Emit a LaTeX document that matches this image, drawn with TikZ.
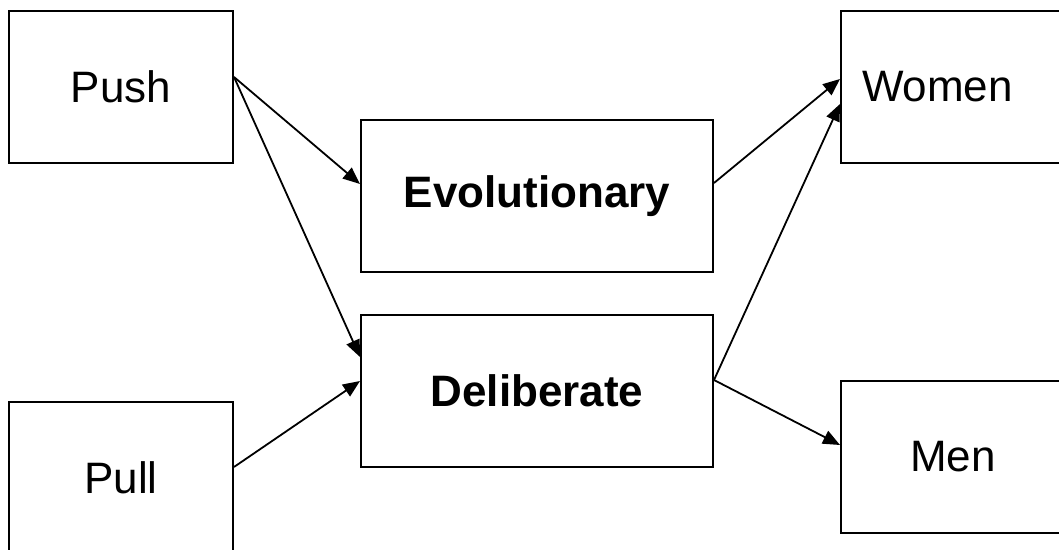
\documentclass[tikz,border=0pt]{standalone}
\usepackage{fontspec}
\setmainfont{Liberation Sans}
\usetikzlibrary{positioning, arrows.meta}

\begin{document}
\begin{tikzpicture}[
    x=0.5pt, y=-0.5pt,
    factor/.style={rectangle, draw, line width=1pt, minimum width=112pt, minimum height=76pt, inner sep=0pt, font=\fontsize{22}{26}\selectfont},
    mode/.style={rectangle, draw, line width=1pt, minimum width=176pt, minimum height=76pt, inner sep=0pt, font=\fontsize{22}{26}\selectfont\bfseries},
    arrow/.style={-{Triangle[length=8.5pt, width=7pt]}, line width=0.9pt}
]
\useasboundingbox (0,0) rectangle (1059,550);

% Factors
\node (push) [factor] at (121,87) {Push};
\node (pull) [factor] at (121,478) {Pull};

% Modes
\node (evol) [mode] at (537,196) {Evolutionary};
\node (delib) [mode] at (537,391) {Deliberate};

% Groups
\node (women) [factor, text width=91pt, inner xsep=10.5pt, align=left] at (953,87) {Women};
\node (men) [factor] at (953,457) {Men};

% Arrows
\draw [arrow] ([yshift=5pt]push.east) -- ([yshift=6pt]evol.west);
\draw [arrow] ([yshift=5pt]push.east) -- ([yshift=17pt]delib.west);
\draw [arrow] ([yshift=5.5pt]pull.east) -- ([yshift=5pt]delib.west);
\draw [arrow] ([yshift=6.5pt]evol.east) -- ([yshift=4pt]women.west);
\draw [arrow] ([yshift=5.5pt]delib.east) -- ([yshift=-8.5pt]women.west);
\draw [arrow] ([yshift=5.5pt]delib.east) -- ([yshift=6pt]men.west);

\end{tikzpicture}
\end{document}
